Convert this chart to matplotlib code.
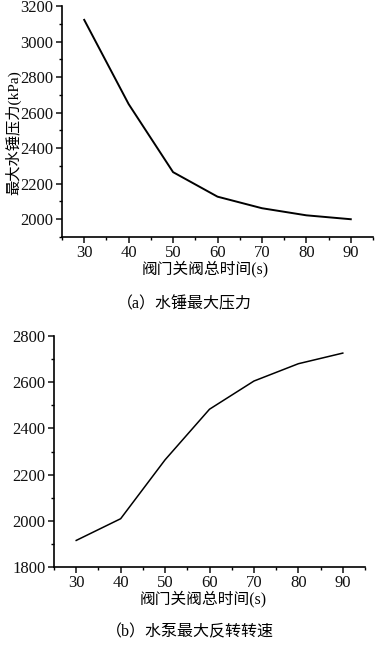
"""Two stacked line charts: max water-hammer pressure and max pump reverse speed
versus total valve closing time."""

import matplotlib
matplotlib.use("Agg")
import matplotlib.pyplot as plt
from matplotlib.ticker import MultipleLocator

plt.rcParams["font.family"] = ["Liberation Serif", "Noto Sans CJK SC", "DejaVu Sans"]

# --- Data ------------------------------------------------------------------
close_time = [30, 40, 50, 60, 70, 80, 90]
max_pressure = [3122, 2648, 2265, 2127, 2062, 2022, 2000]
max_reverse_speed = [1915, 2009, 2264, 2483, 2605, 2680, 2726]

xlabel = "阀门关阀总时间(s)"
ylabel_a = "最大水锤压力(kPa)"
caption_a = "（a）水锤最大压力"
caption_b = "（b）水泵最大反转转速"

W, H = 385, 645
fig = plt.figure(figsize=(W / 100, H / 100), dpi=100)


def px_axes(left, top, right, bottom):
    return fig.add_axes([left / W, 1 - bottom / H, (right - left) / W, (bottom - top) / H])


def style(ax, ymajor, yminor):
    for s in ("top", "right"):
        ax.spines[s].set_visible(False)
    for s in ("left", "bottom"):
        ax.spines[s].set_linewidth(1.2)
    ax.xaxis.set_major_locator(MultipleLocator(10))
    ax.xaxis.set_minor_locator(MultipleLocator(5))
    ax.yaxis.set_major_locator(MultipleLocator(ymajor))
    ax.yaxis.set_minor_locator(MultipleLocator(yminor))
    ax.tick_params(which="major", direction="out", length=4, width=1.1,
                   labelsize=12, pad=2, colors="#111")
    ax.tick_params(which="minor", direction="out", length=2.5, width=1.0)


# --- (a) max water-hammer pressure -----------------------------------------
ax1 = px_axes(62, 6, 373, 237)
ax1.plot(close_time, max_pressure, color="black", linewidth=1.4)
ax1.set_xlim(25, 95)
ax1.set_ylim(1900, 3200)
style(ax1, 200, 100)
ax1.set_yticks([2000, 2200, 2400, 2600, 2800, 3000, 3200])
fig.text(13 / W, 1 - 133 / H, ylabel_a, rotation=90, ha="center", va="center",
         fontsize=11)
fig.text(205 / W, 1 - 269 / H, xlabel, ha="center", va="center", fontsize=11.3)
fig.text(184 / W, 1 - 304 / H, caption_a, ha="center", va="center", fontsize=11.5)

# --- (b) max pump reverse speed --------------------------------------------
ax2 = px_axes(54, 336, 365, 567)
ax2.plot(close_time, max_reverse_speed, color="black", linewidth=1.1)
ax2.set_xlim(25, 95)
ax2.set_ylim(1800, 2800)
style(ax2, 200, 100)
fig.text(203 / W, 1 - 599 / H, xlabel, ha="center", va="center", fontsize=11.3)
fig.text(190 / W, 1 - 632 / H, caption_b, ha="center", va="center", fontsize=11.5)

fig.savefig("out.png", dpi=100)
